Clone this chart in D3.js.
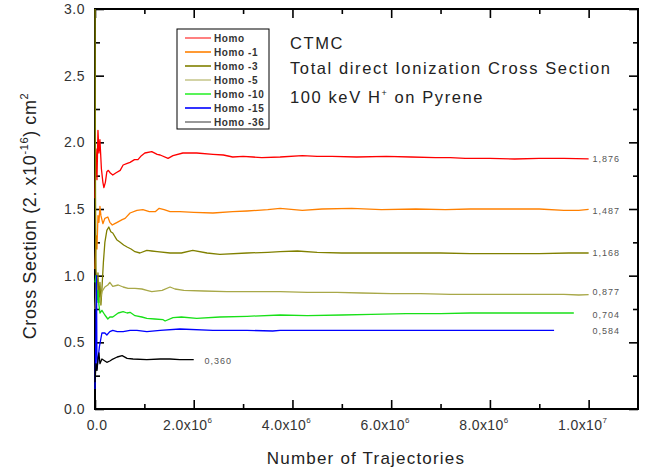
<!DOCTYPE html>
<html>
<head>
<meta charset="utf-8">
<script src="https://cdn.jsdelivr.net/npm/d3@7"></script>
<style>
    body { margin: 0; background: #fff; }
    svg { font-family: Arial, 'Liberation Sans', sans-serif; }
</style>
</head>
<body>
<div id="chart"></div>
<script>
// series names (legend order)
let seriesNames = ['Homo', 'Homo -1', 'Homo -3', 'Homo -5', 'Homo -10', 'Homo -15', 'Homo -36'];
let lineColors = ['#ff0000', '#ff8000', '#808000', '#a8a848', '#18e018', '#0000ff', '#000000'];
let legendColors = ['#ff6060', '#ff8000', '#808000', '#c8c890', '#30f030', '#0000ff', '#808080'];

// [trajectories in millions, cross section]
let homo = [[0, 1.58], [0.02, 1.95], [0.04, 1.72], [0.06, 2.09], [0.08, 1.92], [0.10, 2.02], [0.13, 1.80],
    [0.16, 1.70], [0.18, 1.66], [0.21, 1.70], [0.24, 1.78], [0.27, 1.79], [0.31, 1.77], [0.36, 1.755],
    [0.42, 1.77], [0.51, 1.79], [0.57, 1.83], [0.64, 1.84], [0.71, 1.85], [0.80, 1.87], [0.87, 1.87],
    [0.94, 1.90], [1.01, 1.92], [1.15, 1.93], [1.26, 1.91], [1.32, 1.905], [1.48, 1.88], [1.58, 1.90],
    [1.78, 1.92], [2.06, 1.92], [2.39, 1.91], [2.6, 1.905], [2.79, 1.89], [3.0, 1.895], [3.2, 1.89],
    [3.38, 1.885], [3.75, 1.89], [4.2, 1.90], [4.5, 1.895], [4.8, 1.895], [5.3, 1.89], [5.9, 1.895],
    [6.4, 1.89], [6.9, 1.885], [7.2, 1.885], [7.5, 1.88], [8.0, 1.88], [8.5, 1.875], [9.0, 1.88],
    [9.5, 1.88], [10.0, 1.876]];
let homo1 = [[0, 1.05], [0.02, 1.30], [0.04, 1.20], [0.06, 1.45], [0.08, 1.40], [0.10, 1.52], [0.12, 1.45],
    [0.16, 1.39], [0.20, 1.43], [0.26, 1.44], [0.30, 1.40], [0.35, 1.38], [0.40, 1.39], [0.45, 1.40],
    [0.55, 1.42], [0.61, 1.43], [0.71, 1.47], [0.85, 1.49], [0.97, 1.495], [1.10, 1.48], [1.22, 1.48],
    [1.30, 1.505], [1.40, 1.495], [1.52, 1.48], [1.72, 1.48], [2.0, 1.475], [2.39, 1.47], [2.79, 1.48],
    [3.08, 1.485], [3.5, 1.495], [3.75, 1.505], [4.2, 1.49], [4.6, 1.50], [5.2, 1.505], [5.8, 1.495],
    [6.5, 1.50], [7.1, 1.495], [7.6, 1.50], [8.3, 1.50], [9.0, 1.50], [9.5, 1.49], [9.8, 1.49], [10.0, 1.497]];
let homo3 = [[0, 3.3], [0.01, 1.6], [0.02, 1.05], [0.04, 0.85], [0.06, 1.02], [0.08, 0.80], [0.10, 0.95],
    [0.12, 0.78], [0.14, 0.90], [0.17, 1.10], [0.20, 1.25], [0.24, 1.34], [0.28, 1.365], [0.32, 1.33],
    [0.36, 1.32], [0.44, 1.27], [0.51, 1.25], [0.58, 1.23], [0.65, 1.215], [0.73, 1.20], [0.81, 1.18],
    [0.91, 1.17], [1.05, 1.19], [1.15, 1.185], [1.26, 1.18], [1.52, 1.17], [1.75, 1.17], [1.98, 1.19],
    [2.27, 1.17], [2.53, 1.16], [3.08, 1.17], [3.5, 1.175], [3.75, 1.18], [4.1, 1.185], [4.5, 1.175],
    [5.0, 1.17], [5.6, 1.17], [6.2, 1.17], [7.0, 1.17], [7.6, 1.165], [8.3, 1.165], [9.0, 1.165],
    [9.6, 1.17], [10.0, 1.17]];
let homo5 = [[0, 0.75], [0.03, 0.95], [0.06, 0.85], [0.10, 0.80], [0.14, 0.88], [0.20, 0.915], [0.26, 0.93],
    [0.30, 0.95], [0.36, 0.92], [0.47, 0.93], [0.57, 0.915], [0.67, 0.905], [0.81, 0.905], [0.95, 0.90],
    [1.05, 0.89], [1.15, 0.88], [1.36, 0.89], [1.52, 0.915], [1.62, 0.90], [1.8, 0.89], [2.2, 0.885],
    [2.67, 0.88], [3.2, 0.88], [3.75, 0.88], [4.3, 0.875], [4.9, 0.875], [5.4, 0.87], [6.0, 0.865],
    [6.6, 0.865], [7.2, 0.86], [8.0, 0.86], [8.8, 0.86], [9.5, 0.86], [9.8, 0.855], [10.0, 0.858]];
let homo10 = [[0, 0.95], [0.02, 1.0], [0.04, 0.80], [0.06, 0.89], [0.08, 0.78], [0.10, 0.72], [0.14, 0.74],
    [0.20, 0.705], [0.26, 0.675], [0.30, 0.69], [0.36, 0.69], [0.47, 0.72], [0.57, 0.73], [0.65, 0.72],
    [0.71, 0.725], [0.81, 0.70], [0.95, 0.69], [1.05, 0.68], [1.21, 0.675], [1.38, 0.67], [1.42, 0.66],
    [1.58, 0.685], [1.75, 0.69], [2.06, 0.68], [2.53, 0.69], [3.08, 0.695], [3.75, 0.705], [4.3, 0.70],
    [5.0, 0.705], [5.6, 0.71], [6.3, 0.715], [7.0, 0.715], [7.6, 0.72], [8.3, 0.72], [9.0, 0.72], [9.7, 0.72]];
let homo15 = [[0, 0.15], [0.02, 0.60], [0.03, 1.0], [0.04, 0.30], [0.06, 0.37], [0.09, 0.47], [0.14, 0.57],
    [0.20, 0.57], [0.24, 0.555], [0.30, 0.58], [0.36, 0.59], [0.45, 0.58], [0.57, 0.58], [0.71, 0.59],
    [0.85, 0.59], [1.05, 0.58], [1.32, 0.59], [1.72, 0.60], [2.39, 0.59], [3.08, 0.59], [3.6, 0.585],
    [3.75, 0.59], [4.5, 0.59], [5.5, 0.59], [6.5, 0.59], [7.5, 0.59], [8.5, 0.59], [9.3, 0.59]];
let homo36 = [[0, 0.20], [0.02, 0.34], [0.04, 0.29], [0.06, 0.37], [0.08, 0.42], [0.10, 0.34], [0.14, 0.375],
    [0.20, 0.36], [0.24, 0.35], [0.30, 0.36], [0.34, 0.37], [0.45, 0.39], [0.55, 0.40], [0.65, 0.38],
    [0.77, 0.375], [1.05, 0.37], [1.32, 0.375], [1.52, 0.375], [1.72, 0.37], [2.0, 0.37]];

// converged values written at line ends
let endValues = [1.876, 1.487, 1.168, 0.877, 0.704, 0.584, 0.360];
let endLabels = ['1,876', '1,487', '1,168', '0,877', '0,704', '0,584', '0,360'];
let endLabelX = [10.08, 10.08, 10.08, 10.08, 10.08, 10.08, 2.22];

let xMajor = [0, 2e6, 4e6, 6e6, 8e6, 1e7];
let xMinor = [1e6, 3e6, 5e6, 7e6, 9e6];
let xTickMant = ['0.0', '2.0x10', '4.0x10', '6.0x10', '8.0x10', '1.0x10'];
let xTickExp = ['', '6', '6', '6', '6', '7'];
let yMajor = [0, 0.5, 1.0, 1.5, 2.0, 2.5, 3.0];
let yMinor = [0.25, 0.75, 1.25, 1.75, 2.25, 2.75];

let allSeries = [homo, homo1, homo3, homo5, homo10, homo15, homo36];

let width = 654,
    height = 474;
let margin = {top: 9, right: 16, bottom: 65, left: 95};

let svg = d3.select('#chart')
    .append('svg')
    .attr('width', width)
    .attr('height', height);

let x = d3.scaleLinear()
    .domain([0, 1.1e7])
    .range([margin.left, width - margin.right]);
let y = d3.scaleLinear()
    .domain([0, 3])
    .range([height - margin.bottom, margin.top]);

svg.append('clipPath')
    .attr('id', 'plot-clip')
    .append('rect')
    .attr('x', x(0) - 1)
    .attr('y', y(3))
    .attr('width', x(1.1e7) - x(0) + 1)
    .attr('height', y(0) - y(3));

// axes, ticks point inward
function tickAxis(axis, values, size) {
    return axis.tickValues(values).tickSize(-size).tickFormat('');
}

let axisBottomG = svg.append('g').attr('transform', 'translate(0,' + y(0) + ')');
axisBottomG.call(tickAxis(d3.axisBottom(x), xMajor, 9));
axisBottomG.append('g').call(tickAxis(d3.axisBottom(x), xMinor, 5));

let axisTopG = svg.append('g').attr('transform', 'translate(0,' + y(3) + ')');
axisTopG.call(tickAxis(d3.axisTop(x), xMajor, 9));
axisTopG.append('g').call(tickAxis(d3.axisTop(x), xMinor, 5));

let axisLeftG = svg.append('g').attr('transform', 'translate(' + x(0) + ',0)');
axisLeftG.call(tickAxis(d3.axisLeft(y), yMajor, 9));
axisLeftG.append('g').call(tickAxis(d3.axisLeft(y), yMinor, 5));

let axisRightG = svg.append('g').attr('transform', 'translate(' + x(1.1e7) + ',0)');
axisRightG.call(tickAxis(d3.axisRight(y), yMajor, 9));
axisRightG.append('g').call(tickAxis(d3.axisRight(y), yMinor, 5));

svg.selectAll('.domain').remove();
svg.selectAll('.tick line').attr('stroke', '#000').attr('stroke-width', 1.6);

svg.append('rect')
    .attr('x', x(0))
    .attr('y', y(3))
    .attr('width', x(1.1e7) - x(0))
    .attr('height', y(0) - y(3))
    .attr('fill', 'none')
    .attr('stroke', '#000')
    .attr('stroke-width', 2);

// data lines (drawn over the frame, as in the original)
let line = d3.line()
    .x(d => x(d[0] * 1e6))
    .y(d => y(d[1]));

svg.append('g')
    .attr('clip-path', 'url(#plot-clip)')
    .selectAll('path.series')
    .data(allSeries)
    .enter()
    .append('path')
    .attr('class', 'series')
    .attr('fill', 'none')
    .attr('stroke', (d, i) => lineColors[i])
    .attr('stroke-width', 1.3)
    .attr('stroke-linejoin', 'round')
    .attr('d', line);

// end labels
svg.append('g')
    .selectAll('text')
    .data(endValues)
    .enter()
    .append('text')
    .attr('x', (d, i) => x(endLabelX[i] * 1e6))
    .attr('y', d => y(d))
    .attr('dy', '0.35em')
    .attr('font-size', 9)
    .attr('letter-spacing', 1)
    .attr('fill', '#555')
    .text((d, i) => endLabels[i]);

// tick labels
let xLab = svg.append('g')
    .selectAll('text')
    .data(xMajor)
    .enter()
    .append('text')
    .attr('x', (d, i) => x(d) + (i === 0 ? 2 : -6))
    .attr('y', y(0) + 21)
    .attr('text-anchor', 'middle')
    .attr('font-size', 14)
    .attr('letter-spacing', 0.4)
    .attr('fill', '#333');
xLab.append('tspan').text((d, i) => xTickMant[i]);
xLab.append('tspan')
    .attr('dy', -7)
    .attr('font-size', 8)
    .text((d, i) => xTickExp[i]);

svg.append('g')
    .selectAll('text')
    .data(yMajor)
    .enter()
    .append('text')
    .attr('x', x(0) - 10)
    .attr('y', d => y(d))
    .attr('dy', '0.35em')
    .attr('text-anchor', 'end')
    .attr('font-size', 14)
    .attr('letter-spacing', 0.5)
    .attr('fill', '#333')
    .text(d => d.toFixed(1));

// axis titles
svg.append('text')
    .attr('x', 366)
    .attr('y', 464)
    .attr('text-anchor', 'middle')
    .attr('font-size', 17)
    .attr('letter-spacing', 1.2)
    .attr('fill', '#222')
    .text('Number of Trajectories');

let yTitle = svg.append('text')
    .attr('transform', 'translate(36,' + 216 + ') rotate(-90)')
    .attr('text-anchor', 'middle')
    .attr('font-size', 18)
    .attr('letter-spacing', 0.6)
    .attr('fill', '#222');
yTitle.append('tspan').text('Cross Section (2. x10');
yTitle.append('tspan').attr('dy', -8).attr('font-size', 11).text('-16');
yTitle.append('tspan').attr('dy', 8).text(') cm');
yTitle.append('tspan').attr('dy', -8).attr('font-size', 11).text('2');

// annotation
let note = svg.append('g').attr('fill', '#222').attr('font-size', 16.5).attr('letter-spacing', 1.6);
note.append('text').attr('x', 290).attr('y', 49).text('CTMC');
note.append('text').attr('x', 290).attr('y', 74).text('Total direct Ionization Cross Section');
let note3 = note.append('text').attr('x', 290).attr('y', 103);
note3.append('tspan').text('100 keV H');
note3.append('tspan').attr('dy', -7).attr('font-size', 9).text('+');
note3.append('tspan').attr('dy', 7).text(' on Pyrene');

// legend
let legend = svg.append('g');
legend.append('rect')
    .attr('x', 177)
    .attr('y', 29)
    .attr('width', 92)
    .attr('height', 100)
    .attr('fill', '#fff')
    .attr('stroke', '#000')
    .attr('stroke-width', 1);

let item = legend.selectAll('g.item')
    .data(seriesNames)
    .enter()
    .append('g')
    .attr('class', 'item')
    .attr('transform', (d, i) => 'translate(0,' + (38 + i * 14) + ')');
item.append('line')
    .attr('x1', 185)
    .attr('x2', 211)
    .attr('stroke', (d, i) => legendColors[i])
    .attr('stroke-width', 1.6);
item.append('text')
    .attr('x', 214)
    .attr('dy', '0.35em')
    .attr('font-size', 10)
    .attr('font-weight', 'bold')
    .attr('letter-spacing', 0.6)
    .attr('fill', '#333')
    .text(d => d);
</script>
</body>
</html>
